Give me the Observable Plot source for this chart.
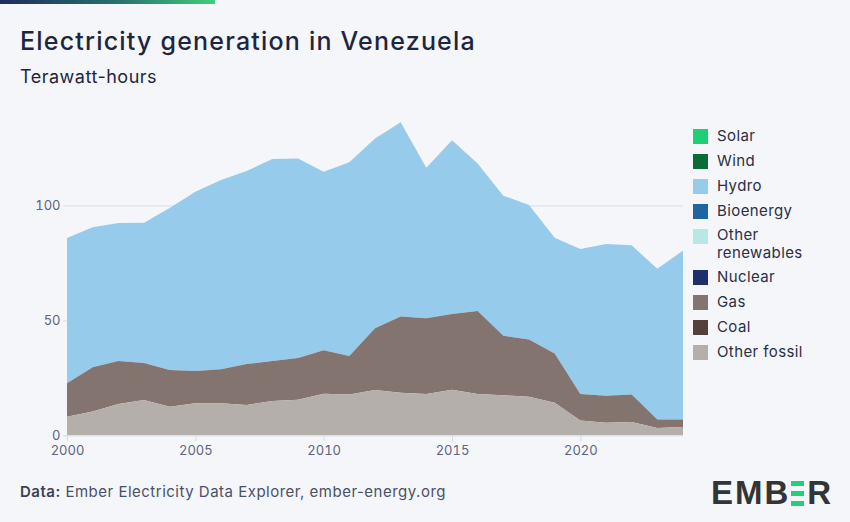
<!DOCTYPE html>
<html>
<head>
<meta charset="utf-8">
<script src="https://cdn.jsdelivr.net/npm/d3@7"></script>
<script src="https://cdn.jsdelivr.net/npm/@observablehq/plot@0.6"></script>
<style>
  html, body { margin: 0; padding: 0; background: #f5f6fa; }
  body { width: 850px; height: 522px; position: relative; overflow: hidden; font-family: Inter, "Noto Sans", sans-serif; }
  .topbar { position: absolute; left: 0; top: 0; width: 215px; height: 4px; background: linear-gradient(90deg, #1f2c5c 0%, #2b6f6e 55%, #3ecf79 100%); }
  .title { position: absolute; left: 20px; top: 26px; font-size: 25px; font-weight: 500; color: #1d2640; letter-spacing: 1.2px; }
  .subtitle { position: absolute; left: 20px; top: 66px; font-size: 18px; color: #1d2640; letter-spacing: 0.5px; }
  #chart { position: absolute; left: 0; top: 100px; }
  .legend { position: absolute; left: 693px; top: 128px; font-size: 15px; color: #2a2f45; letter-spacing: 0.4px; }
  .legend .item { display: flex; align-items: flex-start; height: 25px; }
  .legend .item.two { height: 41px; }
  .legend .sw { width: 15px; height: 15px; margin-right: 9px; margin-top: 1px; flex: none; }
  .legend .lab { line-height: 16px; }
  .legend .lab .l1 { height: 17px; line-height: 16px; margin-top: -1px; }
  .legend .lab .l2 { height: 17px; line-height: 16px; margin-top: 1px; }
  .footer { position: absolute; left: 20px; top: 482px; font-size: 15px; color: #4a5068; letter-spacing: 0.5px; }
  .footer b { font-weight: 600; color: #3a405a; }
  .logo { position: absolute; left: 711px; top: 474px; font-size: 33px; font-weight: 800; color: #333436; letter-spacing: 2px; font-family: "Liberation Sans", Arial, sans-serif; display: flex; align-items: center; }
  .logo .ge { display: inline-flex; flex-direction: column; justify-content: space-between; width: 13px; height: 25px; margin: 0 3px 0 1px; }
  .logo .ge span { display: block; height: 5px; background: #22d07a; }
</style>
</head>
<body>
<div class="topbar"></div>
<div class="title">Electricity generation in Venezuela</div>
<div class="subtitle">Terawatt-hours</div>
<div id="chart"></div>
<div class="legend" id="legend"></div>
<div class="footer"><b>Data:</b> Ember Electricity Data Explorer, ember-energy.org</div>
<div class="logo">EMB<span class="ge"><span></span><span></span><span></span></span>R</div>
<script>
const years = [2000,2001,2002,2003,2004,2005,2006,2007,2008,2009,2010,2011,2012,2013,2014,2015,2016,2017,2018,2019,2020,2021,2022,2023,2024];
const otherFossil = [8.1,10.3,13.6,15.3,12.4,13.9,13.9,13.2,14.9,15.5,18.1,17.7,19.7,18.5,18.0,19.8,18.0,17.4,16.8,14.2,6.4,5.5,5.8,3.2,3.6];
const coal = [0,0,0,0,0,0,0,0,0,0,0,0,0,0,0,0,0,0,0,0,0,0,0,0,0];
const gas = [14.5,19.3,18.7,16.1,16.0,14.1,14.8,17.8,17.4,18.1,18.9,16.8,26.8,33.1,32.9,32.9,36.0,25.9,24.9,21.4,11.6,11.7,11.9,3.7,3.3];
const nuclear = [0,0,0,0,0,0,0,0,0,0,0,0,0,0,0,0,0,0,0,0,0,0,0,0,0];
const otherRenewables = [0,0,0,0,0,0,0,0,0,0,0,0,0,0,0,0,0,0,0,0,0,0,0,0,0];
const bioenergy = [0,0,0,0,0,0,0,0,0,0,0,0,0,0,0,0,0,0,0,0,0,0,0,0,0];
const hydro = [63.2,60.9,60.0,61.0,70.4,77.9,82.3,83.9,87.8,86.7,77.6,84.2,82.3,84.3,65.2,75.4,64.0,60.9,58.4,50.3,63.0,66.0,64.9,65.5,73.4];
const wind = [0,0,0,0,0,0,0,0,0,0,0,0,0.1,0.1,0.1,0.1,0.1,0,0,0,0,0,0,0,0];
const solar = [0,0,0,0,0,0,0,0,0,0,0,0,0,0,0,0,0,0,0,0,0,0,0,0,0];

const seriesNames = ["Solar","Wind","Hydro","Bioenergy","Other renewables","Nuclear","Gas","Coal","Other fossil"];
const seriesColors = ["#1fcf74","#0d6b3a","#97cbeb","#1f66a0","#b8e8e5","#1f2f6e","#83746f","#56403a","#b5afab"];
const seriesValues = {"Solar": solar, "Wind": wind, "Hydro": hydro, "Bioenergy": bioenergy, "Other renewables": otherRenewables, "Nuclear": nuclear, "Gas": gas, "Coal": coal, "Other fossil": otherFossil};
const yTicks = [0, 50, 100];
const xTicks = [2000, 2005, 2010, 2015, 2020];

const data = [];
for (const name of seriesNames) {
  years.forEach((yr, i) => data.push({year: yr, series: name, value: seriesValues[name][i]}));
}
const stackOrder = seriesNames.slice().reverse();

const chart = Plot.plot({
  width: 850,
  height: 360,
  marginLeft: 67,
  marginRight: 167,
  marginTop: 13.3,
  marginBottom: 24.7,
  style: {background: "transparent", fontFamily: "Inter, 'Noto Sans', sans-serif", fontSize: "13px", color: "#5d6480"},
  x: {domain: [2000, 2024], ticks: xTicks, tickFormat: d => String(d), label: null, tickSize: 6, tickPadding: 4},
  y: {domain: [0, 140], ticks: yTicks, label: null, tickSize: 0, tickPadding: 7},
  color: {domain: seriesNames, range: seriesColors},
  marks: [
    Plot.ruleY(yTicks.filter(d => d > 0), {stroke: "#dde0ea", strokeWidth: 1.2, x1: 1999.85, x2: 2024}),
    Plot.areaY(data, {x: "year", y: "value", fill: "series", order: stackOrder}),
    Plot.ruleY([0], {stroke: "#dde0ea", strokeWidth: 1.5, x1: 1999.85, x2: 2024})
  ]
});
chart.querySelectorAll("[aria-label='x-axis tick']").forEach(el => el.setAttribute("stroke", "#d3d8e6"));
document.getElementById("chart").appendChild(chart);

const legend = document.getElementById("legend");
seriesNames.forEach((name, i) => {
  const item = document.createElement("div");
  item.className = "item" + (name === "Other renewables" ? " two" : "");
  const sw = document.createElement("div");
  sw.className = "sw";
  sw.style.background = seriesColors[i];
  const lab = document.createElement("div");
  lab.className = "lab";
  if (name === "Other renewables") {
    const a = document.createElement("div"); a.className = "l1"; a.textContent = "Other";
    const b = document.createElement("div"); b.className = "l2"; b.textContent = "renewables";
    lab.appendChild(a); lab.appendChild(b);
  } else {
    lab.textContent = name;
  }
  item.appendChild(sw); item.appendChild(lab);
  legend.appendChild(item);
});
</script>
</body>
</html>
